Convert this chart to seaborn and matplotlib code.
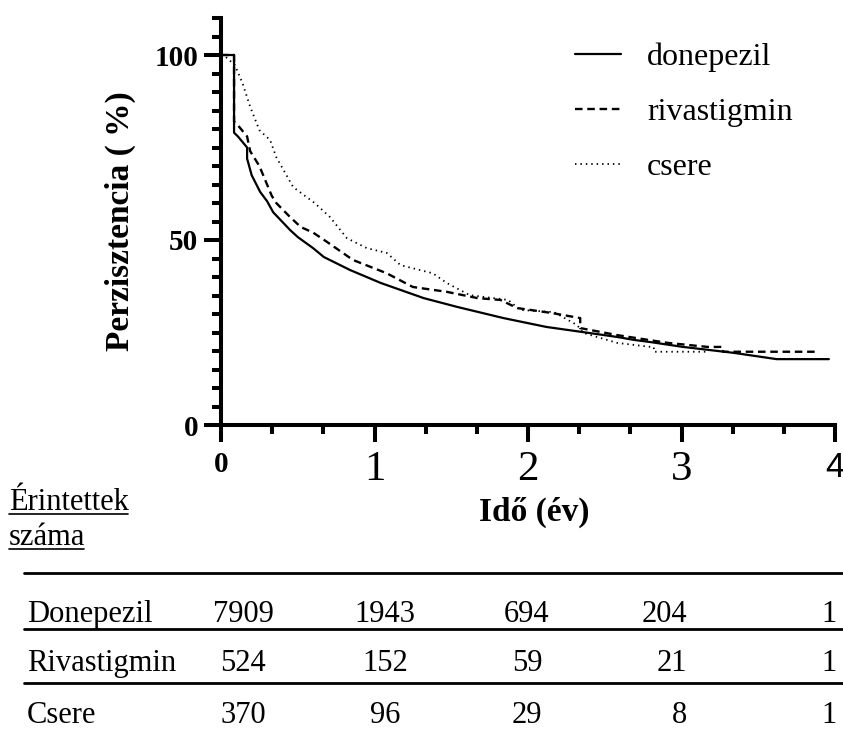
import matplotlib
matplotlib.use("Agg")
import matplotlib.pyplot as plt
import seaborn as sns
import pandas as pd
from matplotlib.lines import Line2D
from matplotlib.ticker import MultipleLocator

sns.set_style("ticks")
plt.rcParams['font.family'] = ['Liberation Serif', 'DejaVu Serif']
plt.rcParams['text.color'] = 'black'
plt.rcParams['axes.labelcolor'] = 'black'
plt.rcParams['xtick.color'] = 'black'
plt.rcParams['ytick.color'] = 'black'

# ---- data ----
series_names = ["donepezil", "rivastigmin", "csere"]

don_t = [0, 0.085, 0.085, 0.11, 0.15, 0.17, 0.17, 0.20, 0.255, 0.30, 0.34, 0.45, 0.50, 0.60, 0.67, 0.84, 1.04,
         1.32, 1.54, 1.84, 2.12, 2.36, 2.58, 2.69, 2.80, 3.01, 3.34, 3.62, 3.96]
don_v = [100, 100, 79, 78, 76, 75, 72, 67.5, 63, 60.5, 57.5, 52.7, 50.8, 47.8, 45.4, 41.9, 38.4,
         34.3, 31.9, 28.9, 26.5, 25.1, 23.8, 23.0, 22.4, 21.1, 19.5, 17.8, 17.8]

riv_t = [0, 0.085, 0.085, 0.11, 0.17, 0.19, 0.25, 0.33, 0.36, 0.45, 0.52, 0.60, 0.69, 0.86, 1.08, 1.25,
         1.47, 1.67, 1.82, 1.93, 2.15, 2.34, 2.34, 2.58, 2.91, 3.17, 3.27, 3.27, 3.89]
riv_v = [100, 100, 82, 81, 78, 74, 70, 62, 60, 56.2, 53.5, 52, 49.5, 44.6, 41, 37.3,
         36, 34.3, 33.8, 31.6, 30.3, 28.9, 26.2, 24.3, 22.2, 21.1, 21.1, 19.8, 19.8]

csr_t = [0, 0.03, 0.09, 0.14, 0.19, 0.25, 0.32, 0.36, 0.47, 0.61, 0.71, 0.82, 0.95, 1.08, 1.17, 1.38,
         1.47, 1.62, 1.87, 1.95, 2.17, 2.26, 2.32, 2.36, 2.58, 2.82, 2.82, 3.17]
csr_v = [100, 99.5, 97.3, 92.4, 86, 79.7, 77, 72.4, 64.3, 60, 56.2, 50.5, 47.8, 46.5, 43.2, 41,
         38.4, 35.1, 33.8, 31.1, 30.5, 28.4, 27, 24.9, 22.2, 21, 19.8, 19.8]

# at-risk table
table_rows = ["Donepezil", "Rivastigmin", "Csere"]
risk_don = [7909, 1943, 694, 204, 1]
risk_riv = [524, 152, 59, 21, 1]
risk_csr = [370, 96, 29, 8, 1]

x_ticks = [0, 1, 2, 3, 4]
y_ticks = [0, 50, 100]

# ---- figure ----
W, H = 843, 733
fig = plt.figure(figsize=(W / 100, H / 100), dpi=100)
ax = fig.add_axes([221 / W, 1 - 425 / H, (835 - 221) / W, (425 - 18) / H])

styles = [
    dict(linestyle="-", linewidth=1.6),
    dict(linestyle=(0, (3.2, 2.0)), linewidth=1.7),
    dict(linestyle=(0, (0.8, 2.2)), linewidth=1.3),
]
for name, t, v, st in zip(series_names, [don_t, riv_t, csr_t], [don_v, riv_v, csr_v], styles):
    df = pd.DataFrame({"t": t, "v": v})
    sns.lineplot(data=df, x="t", y="v", sort=False, estimator=None, color="black",
                 label=name, ax=ax, **st)

ax.set_xlim(0, 4)
ax.set_ylim(0, 110)
sns.despine(ax=ax)
for s in ["left", "bottom"]:
    ax.spines[s].set_linewidth(2.9)
    ax.spines[s].set_color("black")

ax.set_xticks(x_ticks)
ax.set_yticks(y_ticks)
ax.xaxis.set_minor_locator(MultipleLocator(1 / 3))
ax.yaxis.set_minor_locator(MultipleLocator(5))
ax.tick_params(axis="both", which="major", length=12.5, width=2.9, color="black", labelcolor="black")
ax.tick_params(axis="both", which="minor", length=6.5, width=2.9, color="black")
ax.tick_params(axis="y", which="major", pad=4)
ax.tick_params(axis="x", which="major", pad=6)

ax.set_yticklabels([str(v) for v in y_ticks], fontsize=21, fontweight="bold")
ax.set_xticklabels([str(v) for v in x_ticks])
xl = ax.get_xticklabels()
for i, lab in enumerate(xl):
    if i == 0:
        lab.set_fontsize(21)
        lab.set_fontweight("bold")
    elif i == len(xl) - 1:
        lab.set_fontsize(25)
        lab.set_family(["Liberation Sans", "DejaVu Sans"])
    else:
        lab.set_fontsize(31)

ax.set_ylabel("Perzisztencia ( %)", fontsize=24, fontweight="bold", color="black")
ax.yaxis.set_label_coords((120 - 221) / 614, 0.5)
ax.yaxis.label.set_va("center")
ax.set_xlabel("Idő (év)", fontsize=24, fontweight="bold", color="black")
ax.xaxis.set_label_coords((534 - 221) / 614, (425 - 512) / 407)
ax.xaxis.label.set_va("center")

leg = ax.legend(loc="upper left", bbox_to_anchor=(575 / W, 1 - 43 / H), bbox_transform=fig.transFigure,
                frameon=False, fontsize=23, handlelength=1.45, handletextpad=0.8, labelspacing=0.8,
                borderaxespad=0, borderpad=0, labelcolor="black")

# ---- at-risk table ----
def fx(px):
    return px / W

def fy(py):
    return 1 - py / H

fig.text(fx(9), fy(510), "Érintettek", fontsize=22, ha="left", va="baseline")
fig.text(fx(9), fy(545), "száma", fontsize=22, ha="left", va="baseline")
fig.add_artist(Line2D([fx(9), fx(128)], [fy(514), fy(514)], color="black", lw=1.2))
fig.add_artist(Line2D([fx(9), fx(84)], [fy(549), fy(549)], color="black", lw=1.2))

for yl in [573, 629, 683]:
    fig.add_artist(Line2D([fx(24), fx(843)], [fy(yl), fy(yl)], color="black", lw=2.0))

col_x = [243, 385, 527, 687, 837]
col_ha = ["center", "center", "center", "right", "right"]
baselines = [622, 671, 723]
for row, vals, yb in zip(table_rows, [risk_don, risk_riv, risk_csr], baselines):
    fig.text(fx(27), fy(yb), row, fontsize=22, ha="left", va="baseline")
    for val, cx, ha in zip(vals, col_x, col_ha):
        fig.text(fx(cx), fy(yb), str(val), fontsize=22, ha=ha, va="baseline")

fig.savefig("out.png", dpi=100)
